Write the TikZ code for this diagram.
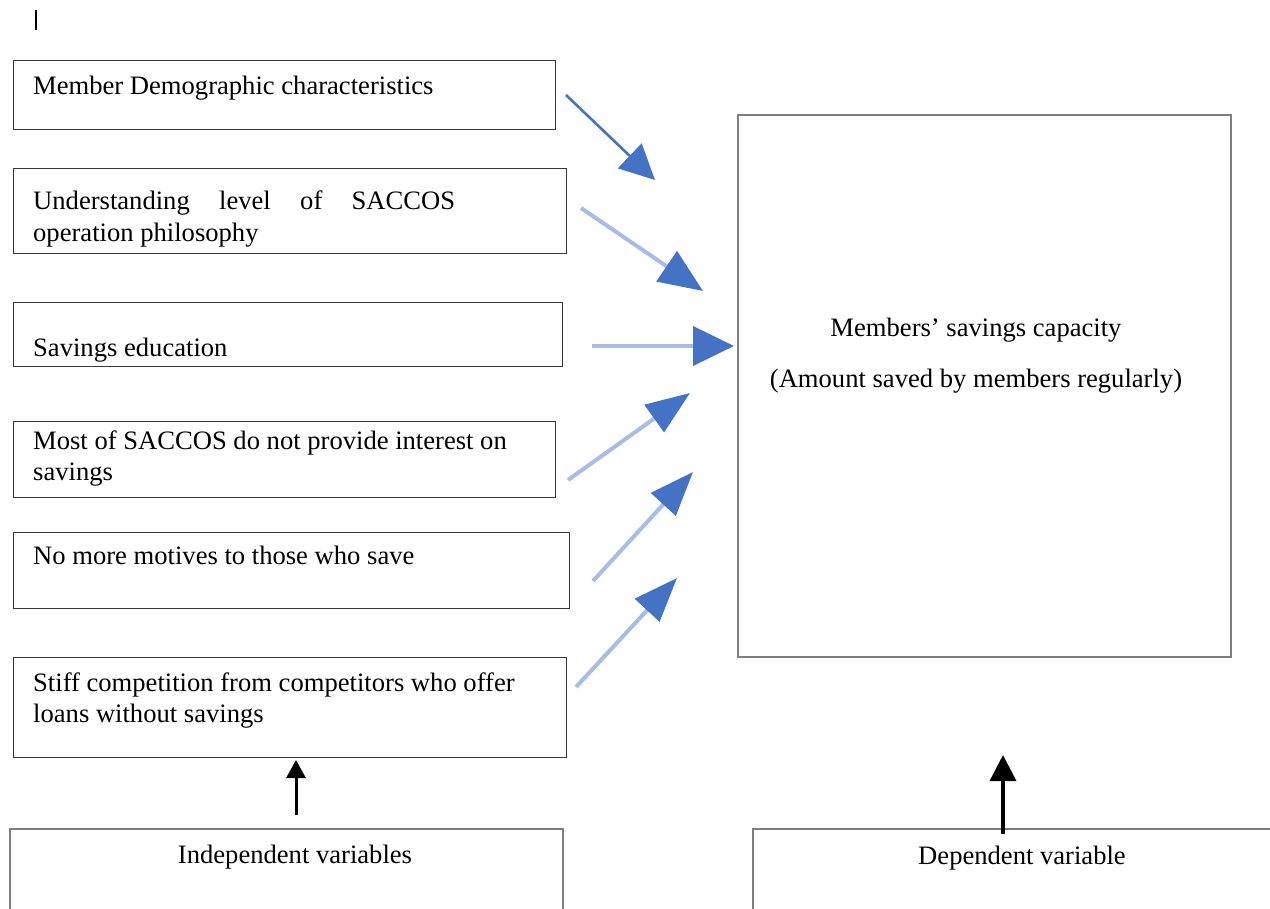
\documentclass[tikz,border=0pt]{standalone}
\usepackage{fontspec}
\setmainfont{Liberation Serif}
\usetikzlibrary{arrows.meta}
\definecolor{hblue}{HTML}{4472C4}
\definecolor{lblue}{HTML}{A6BDE5}
\definecolor{bgray}{HTML}{7F7F7F}
\begin{document}
\begin{tikzpicture}[x=1pt,y=-1pt,
  box/.style={draw=black!78,line width=1.4pt,inner sep=0pt,anchor=north west},
  bigbox/.style={draw=bgray,line width=2pt,inner sep=0pt,anchor=north west},
  txt/.style={anchor=base west,inner sep=0pt,align=left,
    font=\fontsize{26.6}{31.5}\selectfont},
  ctxt/.style={anchor=base,inner sep=0pt,font=\fontsize{26.6}{31.5}\selectfont},
  darrow/.style={hblue,line width=2.6pt,-{Triangle[length=35pt,width=34pt,color=hblue]}},
  larrow/.style={lblue,line width=4pt,-{Triangle[length=#1,color=hblue]}},
  karrow/.style={black,line width=3pt}
]
\clip (0,0) rectangle (1270,909);
\fill[white] (0,0) rectangle (1270,909);

% stray cursor mark
\draw[black,line width=1.4pt] (36,10) -- (36,30);

% left boxes
\node[box,minimum width=542pt,minimum height=69pt] (b1) at (13,60) {};
\node[box,minimum width=553pt,minimum height=85pt] (b2) at (13,168) {};
\node[box,minimum width=549pt,minimum height=64pt] (b3) at (13,302) {};
\node[box,minimum width=542pt,minimum height=76pt] (b4) at (13,421) {};
\node[box,minimum width=556pt,minimum height=76pt] (b5) at (13,532) {};
\node[box,minimum width=553pt,minimum height=100pt] (b6) at (13,657) {};

% (anchor base west of a two-line node = baseline of its last line)
\node[txt] (t1) at (33,95) {Member Demographic characteristics};
\node[txt] (t2) at (33,241.5) {\hbox to 422pt{Understanding\hfill level\hfill of\hfill SACCOS}\\operation philosophy};
\node[txt] (t3) at (33,357) {Savings education};
\node[txt] (t4) at (33,480.5) {Most of SACCOS do not provide interest on\\savings};
\node[txt] (t5) at (33,564) {No more motives to those who save};
\node[txt] (t6) at (33,722.5) {Stiff competition from competitors who offer\\loans without savings};

% dependent big box
\node[bigbox,minimum width=493pt,minimum height=542pt] (big) at (737,114) {};
\node[ctxt] (m1) at (976,337) {Members’ savings capacity};
\node[ctxt] (m2) at (976,388) {(Amount saved by members regularly)};

% bottom label boxes
\node[bigbox,minimum width=553pt,minimum height=140pt] (ind) at (9,828) {};
\node[ctxt] (indt) at (295,863) {Independent variables};
\node[bigbox,minimum width=560pt,minimum height=140pt] (dep) at (752,828) {};
\node[ctxt] (dept) at (1022,864) {Dependent variable};

% arrow end points
\coordinate (s1) at (566,95);  \coordinate (e1) at (655,180);
\coordinate (s2) at (581,208); \coordinate (e2) at (703,291);
\coordinate (s3) at (592,346); \coordinate (e3) at (734,346);
\coordinate (s4) at (568,480); \coordinate (e4) at (690,393);
\coordinate (s5) at (593,581); \coordinate (e5) at (693,472);
\coordinate (s6) at (576,687); \coordinate (e6) at (677,578);
\coordinate (s7) at (296,815); \coordinate (e7) at (296,760);
\coordinate (s8) at (1003,834); \coordinate (e8) at (1003,755);

\draw[darrow] (s1) -- (e1);
\draw[larrow={44pt,width=36pt}] (s2) -- (e2);
\draw[larrow={41pt,width=39pt}] (s3) -- (e3);
\draw[larrow={44pt,width=33pt}] (s4) -- (e4);
\draw[larrow={44pt,width=33pt}] (s5) -- (e5);
\draw[larrow={44pt,width=33pt}] (s6) -- (e6);
\draw[karrow,-{Triangle[length=18pt,width=19pt]}] (s7) -- (e7);
\draw[karrow,line width=3.4pt,-{Triangle[length=26pt,width=26pt]}] (s8) -- (e8);
\end{tikzpicture}
\end{document}
